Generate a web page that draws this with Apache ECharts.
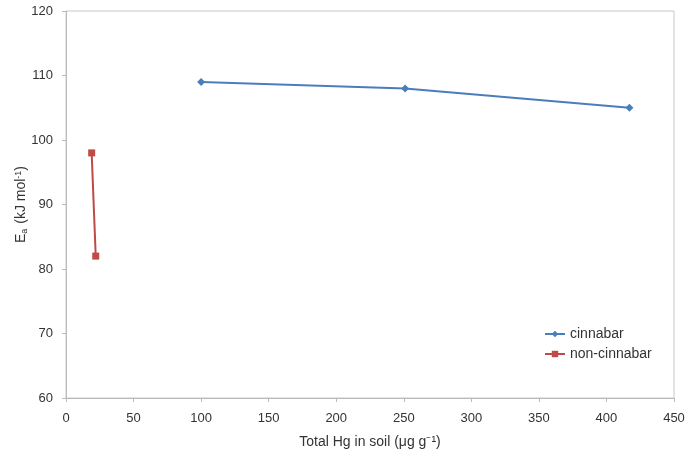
<!DOCTYPE html>
<html>
<head>
<meta charset="utf-8">
<script src="https://cdn.jsdelivr.net/npm/echarts@6/dist/echarts.min.js"></script>
<style>
  html, body { margin: 0; padding: 0; background: #fff; }
  #main { width: 687px; height: 454px; }
</style>
</head>
<body>
<div id="main"></div>
<script>
var cinnabarX = [100, 251, 417];
var cinnabarY = [109, 108, 105];
var nonCinnabarX = [19, 22];
var nonCinnabarY = [98, 82];

function pairs(xs, ys) {
  return xs.map(function (x, i) { return [x, ys[i]]; });
}

var myChart = echarts.init(document.getElementById('main'));

var option = {
  animation: false,
  textStyle: { fontFamily: 'Liberation Sans, Arial, sans-serif' },
  grid: {
    left: 66, right: 13, top: 11, bottom: 56,
    outerBoundsMode: 'none',
    containLabel: false,
    show: true, borderColor: '#c8c8c8', borderWidth: 1
  },
  legend: {
    orient: 'vertical',
    left: 539, top: 322,
    itemWidth: 20, itemHeight: 8, itemGap: 6,
    textStyle: { fontSize: 14, color: '#333' },
    data: ['cinnabar', 'non-cinnabar']
  },
  xAxis: {
    type: 'value',
    min: 0, max: 450, interval: 50,
    name: 'Total Hg in soil (μg g⁻¹)',
    nameLocation: 'middle', nameGap: 37,
    nameMoveOverlap: false,
    nameTextStyle: { fontSize: 14, color: '#333' },
    axisLine: { show: true, lineStyle: { color: '#bbb' } },
    axisTick: { show: true, length: 4, lineStyle: { color: '#bbb' } },
    axisLabel: { fontSize: 13, color: '#333', margin: 14 },
    splitLine: { show: false }
  },
  yAxis: {
    type: 'value',
    min: 60, max: 120, interval: 10,
    name: '{n|E}{s|a}{n| (kJ mol}{p|-1}{n|)}',
    nameLocation: 'middle', nameGap: 37,
    nameMoveOverlap: false,
    nameTextStyle: {
      rich: {
        n: { fontSize: 14, color: '#333' },
        s: { fontSize: 9, color: '#333', verticalAlign: 'bottom', padding: [6, 1, 0, 0] },
        p: { fontSize: 9, color: '#333', verticalAlign: 'top', padding: [0, 0, 6, 0] }
      }
    },
    axisLine: { show: true, lineStyle: { color: '#bbb' } },
    axisTick: { show: true, length: 4, lineStyle: { color: '#bbb' } },
    axisLabel: { fontSize: 13, color: '#333', margin: 13 },
    splitLine: { show: false }
  },
  series: [
    {
      name: 'cinnabar',
      type: 'line',
      data: pairs(cinnabarX, cinnabarY),
      symbol: 'diamond',
      symbolSize: 8,
      lineStyle: { color: '#4a7ebb', width: 2 },
      itemStyle: { color: '#4a7ebb' }
    },
    {
      name: 'non-cinnabar',
      type: 'line',
      data: pairs(nonCinnabarX, nonCinnabarY),
      symbol: 'rect',
      symbolSize: 7,
      lineStyle: { color: '#be4b48', width: 2 },
      itemStyle: { color: '#be4b48' }
    }
  ]
};

myChart.setOption(option);
</script>
</body>
</html>
